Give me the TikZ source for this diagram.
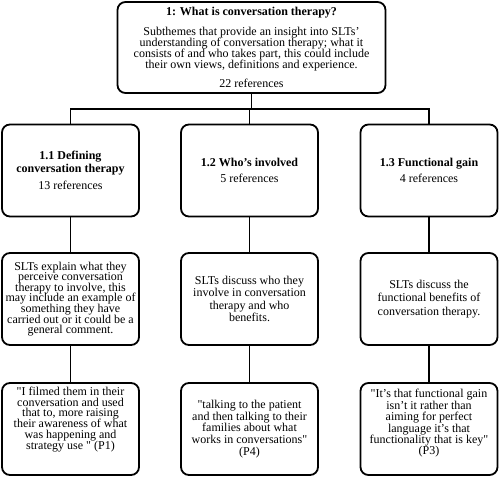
\documentclass[tikz,border=0pt]{standalone}
\usepackage{fontspec}
\setmainfont{Liberation Serif}[Ligatures=TeXOff]
\newcommand\boxfont[1]{\fontsize{12}{#1}\selectfont\lineskiplimit=-20pt\relax}

\begin{document}
\begin{tikzpicture}[x=1pt,y=-1pt,
    box/.style={draw, line width=1.8pt, rounded corners=8pt, align=center,
      inner sep=2pt, font=\boxfont{#1}},
    box/.default={11},
    cell/.style={box=#1, minimum width=137pt, minimum height=92pt},
    cell/.default={11.7},
    link/.style={line width=1.4pt}]
  \useasboundingbox (0,0) rectangle (500,476);
  % theme
  \node[box, minimum width=268pt, minimum height=91pt] (theme) at (251.5,47.5)
    {\textbf{1: What is conversation therapy?}\\[9pt]
     Subthemes that provide an insight into SLTs’\\
     understanding of conversation therapy; what it\\
     consists of and who takes part, this could include\\
     their own views, definitions and experience.\\[8pt]
     22 references};
  % subthemes
  \node[cell] (def) at (70.5,170.5)
    {\textbf{1.1 Defining}\\[1.5pt] \textbf{conversation therapy}\\[5pt] 13 references};
  \node[cell] (who) at (249.5,170.5)
    {\textbf{1.2 Who’s involved}\\[5pt] 5 references};
  \node[cell] (gain) at (429,170.5)
    {\textbf{1.3 Functional gain}\\[5pt] 4 references};
  % descriptions
  \node[cell=10.6] (defdesc) at (70.5,299)
    {SLTs explain what they\\ perceive conversation\\ therapy to involve, this\\
     may include an example of\\ something they have\\
     carried out or it could be a\\ general comment.};
  \node[cell=12.6] (whodesc) at (249.5,299)
    {SLTs discuss who they\\ involve in conversation\\ therapy and who\\ benefits.};
  \node[cell=13.5] (gaindesc) at (429,299)
    {\mbox{}\\[-5pt] SLTs discuss the\\ functional benefits of\\ conversation therapy.};
  % quotes
  \node[cell=10.8] (defquote) at (70.5,429)
    {"I filmed them in their\\ conversation and used\\ that to, more raising\\
     their awareness of what\\ was happening and\\ strategy use " (P1)\\[11pt]\mbox{}};
  \node[cell] (whoquote) at (249.5,429)
    {"talking to the patient\\ and then talking to their\\ families about what\\
     works in conversations"\\ (P4)};
  \node[cell=11.5] (gainquote) at (429,429)
    {"It’s that functional gain\\ isn’t it rather than\\ aiming for perfect\\
     language it’s that\\ functionality that is key"\\[-1pt] (P3)\\[3pt]\mbox{}};
  % connectors
  \coordinate (bus) at (250,109);
  \draw[link] (theme.south) -- (theme.south |- bus);
  \draw[link] (def.north) |- (bus) -| (gain.north);
  \draw[link] (who.north) -- (who.north |- bus);
  \draw[link] (def) -- (defdesc);
  \draw[link] (who) -- (whodesc);
  \draw[link] (gain) -- (gaindesc);
  \draw[link] (defdesc) -- (defquote);
  \draw[link] (whodesc) -- (whoquote);
  \draw[link] (gaindesc) -- (gainquote);
\end{tikzpicture}
\end{document}
